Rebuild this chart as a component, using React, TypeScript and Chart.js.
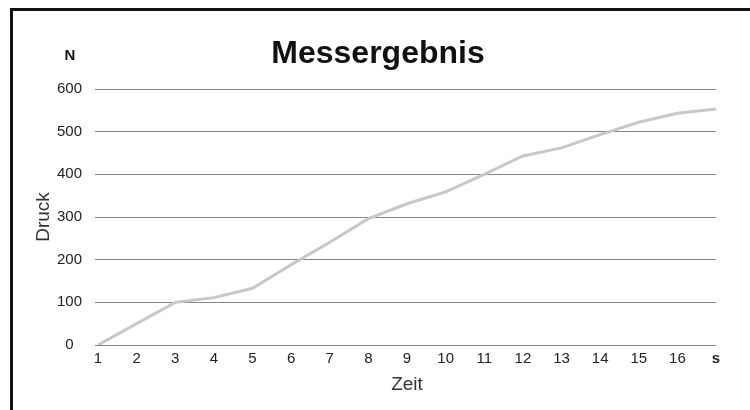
import React, { useEffect, useRef } from "react";
import { Chart, registerables } from "chart.js";

Chart.register(...registerables);

const categories: string[] = ["1", "2", "3", "4", "5", "6", "7", "8", "9", "10", "11", "12", "13", "14", "15", "16", "s"];
const druckValues: number[] = [0, 50, 100, 111, 133, 188, 241, 296, 331, 359, 400, 443, 462, 493, 522, 543, 553];
const chartTitle = "Messergebnis";
const yUnit = "N";
const yTitle = "Druck";
const xTitle = "Zeit";

const FONT = "'Liberation Sans', Arial, sans-serif";

const overlayPlugin = {
  id: "overlayText",
  afterDraw(chart: any) {
    const ctx = chart.ctx;
    ctx.save();
    ctx.fillStyle = "#111";
    ctx.font = `bold 32px ${FONT}`;
    ctx.textAlign = "center";
    ctx.textBaseline = "alphabetic";
    ctx.fillText(chartTitle, 378, 63);
    ctx.font = `bold 15px ${FONT}`;
    ctx.fillText(yUnit, 70, 60);
    ctx.restore();
  },
};

export default function App() {
  const ref = useRef<HTMLCanvasElement | null>(null);
  useEffect(() => {
    if (!ref.current) return;
    const chart = new Chart(ref.current, {
      type: "line",
      data: {
        labels: categories,
        datasets: [
          {
            data: druckValues,
            borderColor: "#c8c8c8",
            borderWidth: 3,
            pointRadius: 0,
            tension: 0,
            fill: false,
          },
        ],
      },
      options: {
        animation: false,
        responsive: false,
        maintainAspectRatio: false,
        layout: { padding: { top: 89, right: 34, bottom: 10, left: 0 } },
        plugins: { legend: { display: false }, tooltip: { enabled: false }, title: { display: false } },
        scales: {
          x: {
            offset: false,
            grid: { display: false },
            border: { display: false },
            ticks: {
              autoSkip: false,
              maxRotation: 0,
              padding: -3,
              color: "#222",
              font: (c: any) =>
                c.index === categories.length - 1
                  ? { family: FONT, size: 15, weight: "bold" }
                  : { family: FONT, size: 15 },
            },
            title: {
              display: true,
              text: xTitle,
              color: "#333",
              font: { family: FONT, size: 19 },
              padding: { top: 4, bottom: 4 },
            },
            afterFit: (s: any) => {
              s.height = 410 - 10 - 345;
            },
          },
          y: {
            min: 0,
            max: 600,
            grid: { color: "#858585", lineWidth: 1, drawTicks: true, tickLength: 3 },
            border: { display: false },
            ticks: {
              stepSize: 100,
              padding: 13,
              crossAlign: "center",
              color: "#222",
              font: { family: FONT, size: 15 },
            },
            title: {
              display: true,
              text: yTitle,
              color: "#333",
              font: { family: FONT, size: 19 },
              padding: { top: 32, bottom: 0 },
            },
            afterFit: (s: any) => {
              s.width = 98;
            },
          },
        },
      },
      plugins: [overlayPlugin],
    });
    return () => chart.destroy();
  }, []);

  return (
    <div style={{ position: "fixed", left: 0, top: 0, width: 750, height: 410, background: "#fff", overflow: "hidden" }}>
      <div
        style={{
          position: "absolute",
          left: 10,
          top: 8,
          width: 760,
          height: 420,
          borderLeft: "3px solid #111",
          borderTop: "3px solid #111",
        }}
      />
      <canvas ref={ref} width={750} height={410} style={{ position: "absolute", left: 0, top: 0, width: 750, height: 410 }} />
    </div>
  );
}
